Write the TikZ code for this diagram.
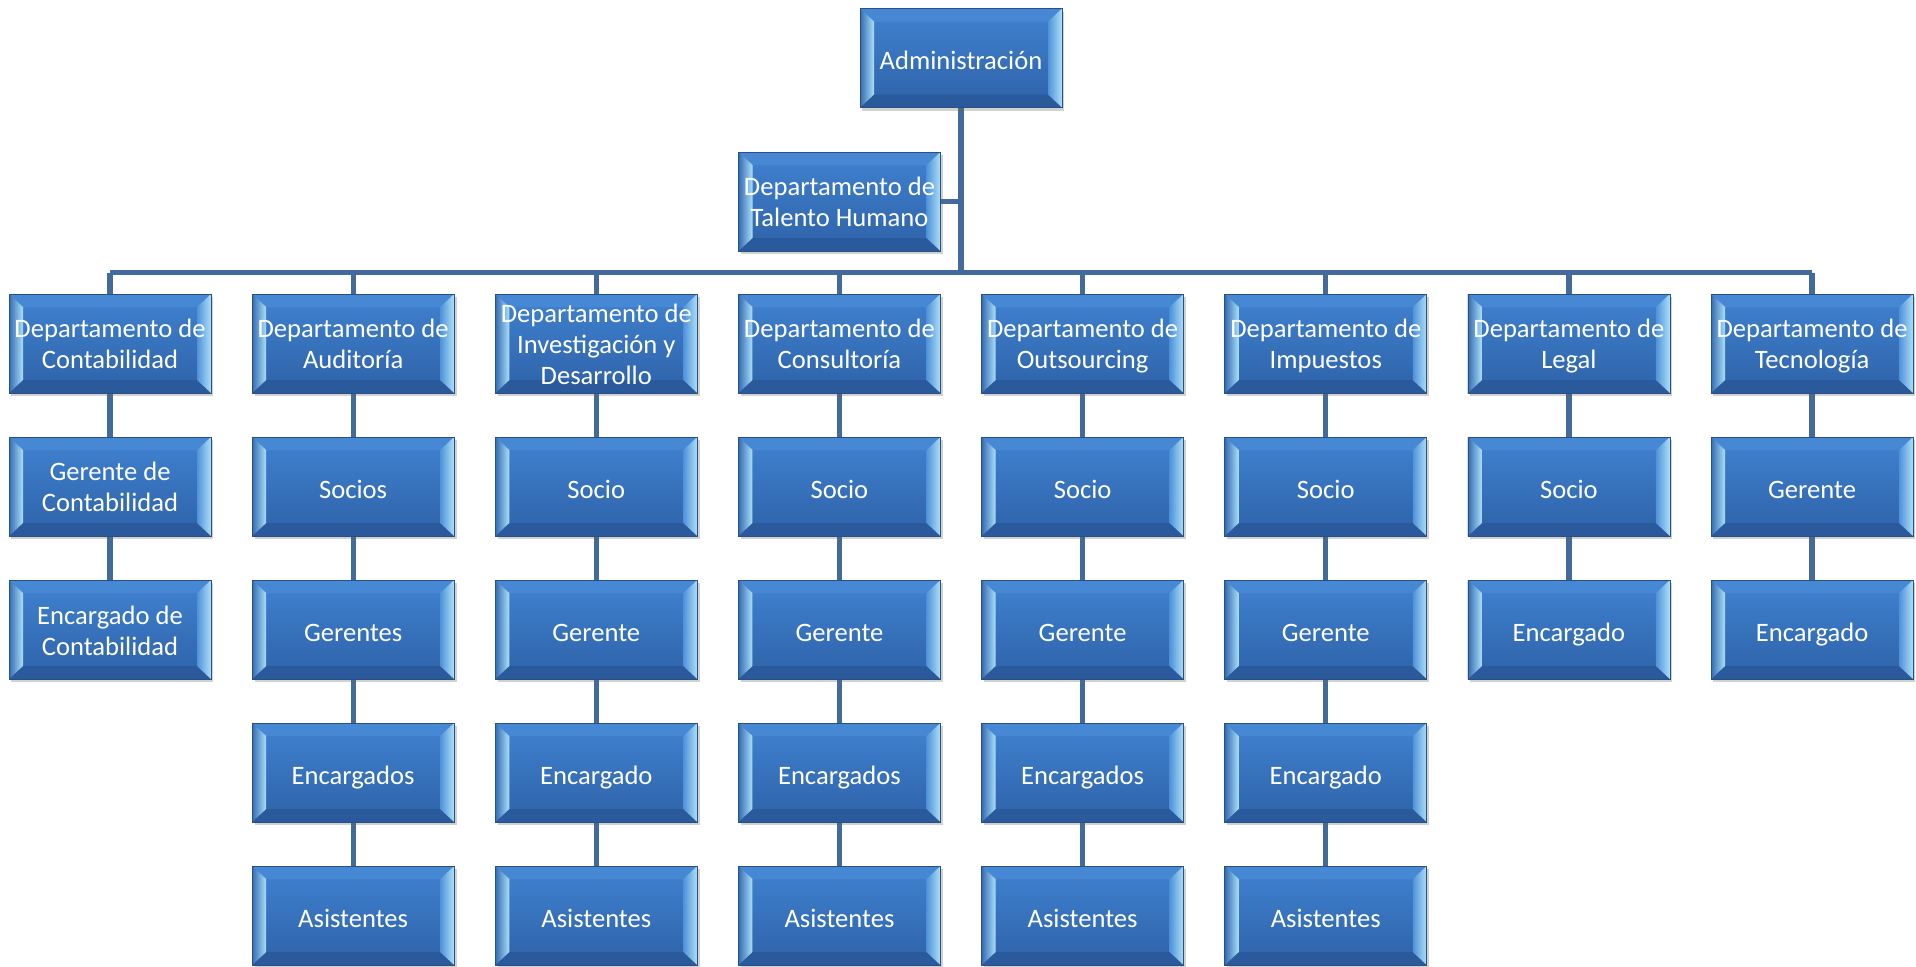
\documentclass[tikz,border=0pt]{standalone}
\usepackage{fontspec}
\setmainfont{Carlito}
\usetikzlibrary{calc,shadows,backgrounds}
\definecolor{facetop}{RGB}{64,130,208}
\definecolor{facebot}{RGB}{46,98,168}
\definecolor{edge}{RGB}{40,80,130}
\definecolor{topbev}{RGB}{70,136,212}
\definecolor{botbev}{RGB}{42,90,155}
\definecolor{lightbev}{RGB}{172,224,248}
\definecolor{midbev}{RGB}{52,108,180}
\definecolor{midbevr}{RGB}{80,146,218}
\definecolor{conn}{RGB}{66,106,156}
\tikzset{
  boxtext/.style={text=white, align=center, font=\fontsize{13.3}{15.5}\selectfont,
    inner sep=0pt, execute at begin node={\strut}, execute at end node={\strut}, yshift=-2.7pt},
  bevelbox/.style={rectangle, minimum width=101pt, minimum height=49.5pt, inner sep=0pt,
    top color=facetop, bottom color=facebot, draw=edge, line width=0.4pt,
    drop shadow={shadow xshift=1.2pt, shadow yshift=-1.5pt, opacity=0.3, fill=black!60},
    label={[boxtext]center:#1},
    path picture={
      \coordinate (nw) at (path picture bounding box.north west);
      \coordinate (ne) at (path picture bounding box.north east);
      \coordinate (sw) at (path picture bounding box.south west);
      \coordinate (se) at (path picture bounding box.south east);
      \fill[topbev] (nw) -- (ne) -- ($(ne)+(-7pt,-6.5pt)$) -- ($(nw)+(7pt,-6.5pt)$) -- cycle;
      \fill[botbev] (sw) -- (se) -- ($(se)+(-7pt,6.5pt)$) -- ($(sw)+(7pt,6.5pt)$) -- cycle;
      \shade[left color=midbev, right color=lightbev] (nw) -- ($(nw)+(7pt,-6.5pt)$) -- ($(sw)+(7pt,6.5pt)$) -- (sw) -- cycle;
      \shade[left color=midbevr, right color=lightbev] (ne) -- ($(ne)+(-7pt,-6.5pt)$) -- ($(se)+(-7pt,6.5pt)$) -- (se) -- cycle;
    }},
  connline/.style={draw=conn, line width=2.6pt}
}
\begin{document}
\begin{tikzpicture}[x=0.5pt,y=-0.5pt]
\useasboundingbox (0,0) rectangle (1916,966);
\node[bevelbox={Administración}] (adm) at (961,58) {};
\node[bevelbox={Departamento de\\Talento Humano}] (th) at (839.5,201.5) {};
\coordinate (bus) at (961,272.5);
% row 1
\node[bevelbox={Departamento de\\Contabilidad}] (d1) at (110,343.5) {};
\node[bevelbox={Departamento de\\Auditoría}] (d2) at (353.15,343.5) {};
\node[bevelbox={Departamento de\\Investigación y\\Desarrollo}] (d3) at (596.3,343.5) {};
\node[bevelbox={Departamento de\\Consultoría}] (d4) at (839.45,343.5) {};
\node[bevelbox={Departamento de\\Outsourcing}] (d5) at (1082.6,343.5) {};
\node[bevelbox={Departamento de\\Impuestos}] (d6) at (1325.75,343.5) {};
\node[bevelbox={Departamento de\\Legal}] (d7) at (1568.9,343.5) {};
\node[bevelbox={Departamento de\\Tecnología}] (d8) at (1812.05,343.5) {};
% column 1
\node[bevelbox={Gerente de\\Contabilidad}] (c1a) at (110,486.5) {};
\node[bevelbox={Encargado de\\Contabilidad}] (c1b) at (110,629.5) {};
% column 2
\node[bevelbox={Socios}] (c2a) at (353.15,486.5) {};
\node[bevelbox={Gerentes}] (c2b) at (353.15,629.5) {};
\node[bevelbox={Encargados}] (c2c) at (353.15,772.5) {};
\node[bevelbox={Asistentes}] (c2d) at (353.15,915.5) {};
% column 3
\node[bevelbox={Socio}] (c3a) at (596.3,486.5) {};
\node[bevelbox={Gerente}] (c3b) at (596.3,629.5) {};
\node[bevelbox={Encargado}] (c3c) at (596.3,772.5) {};
\node[bevelbox={Asistentes}] (c3d) at (596.3,915.5) {};
% column 4
\node[bevelbox={Socio}] (c4a) at (839.45,486.5) {};
\node[bevelbox={Gerente}] (c4b) at (839.45,629.5) {};
\node[bevelbox={Encargados}] (c4c) at (839.45,772.5) {};
\node[bevelbox={Asistentes}] (c4d) at (839.45,915.5) {};
% column 5
\node[bevelbox={Socio}] (c5a) at (1082.6,486.5) {};
\node[bevelbox={Gerente}] (c5b) at (1082.6,629.5) {};
\node[bevelbox={Encargados}] (c5c) at (1082.6,772.5) {};
\node[bevelbox={Asistentes}] (c5d) at (1082.6,915.5) {};
% column 6
\node[bevelbox={Socio}] (c6a) at (1325.75,486.5) {};
\node[bevelbox={Gerente}] (c6b) at (1325.75,629.5) {};
\node[bevelbox={Encargado}] (c6c) at (1325.75,772.5) {};
\node[bevelbox={Asistentes}] (c6d) at (1325.75,915.5) {};
% column 7
\node[bevelbox={Socio}] (c7a) at (1568.9,486.5) {};
\node[bevelbox={Encargado}] (c7b) at (1568.9,629.5) {};
% column 8
\node[bevelbox={Gerente}] (c8a) at (1812.05,486.5) {};
\node[bevelbox={Encargado}] (c8b) at (1812.05,629.5) {};
\begin{scope}[on background layer]
\draw[connline] (adm.south) -- (bus);
\draw[connline] (th.east) -- (th.east -| adm.south);
\draw[connline] (bus -| d1.north) -- (bus -| d8.north);
\foreach \d in {d1,d2,d3,d4,d5,d6,d7,d8}{
  \draw[connline] (bus -| \d.north) -- (\d.north);
}
\draw[connline] (d1) -- (c1a) -- (c1b);
\draw[connline] (d2) -- (c2a) -- (c2b) -- (c2c) -- (c2d);
\draw[connline] (d3) -- (c3a) -- (c3b) -- (c3c) -- (c3d);
\draw[connline] (d4) -- (c4a) -- (c4b) -- (c4c) -- (c4d);
\draw[connline] (d5) -- (c5a) -- (c5b) -- (c5c) -- (c5d);
\draw[connline] (d6) -- (c6a) -- (c6b) -- (c6c) -- (c6d);
\draw[connline] (d7) -- (c7a) -- (c7b);
\draw[connline] (d8) -- (c8a) -- (c8b);
\end{scope}
\end{tikzpicture}
\end{document}
